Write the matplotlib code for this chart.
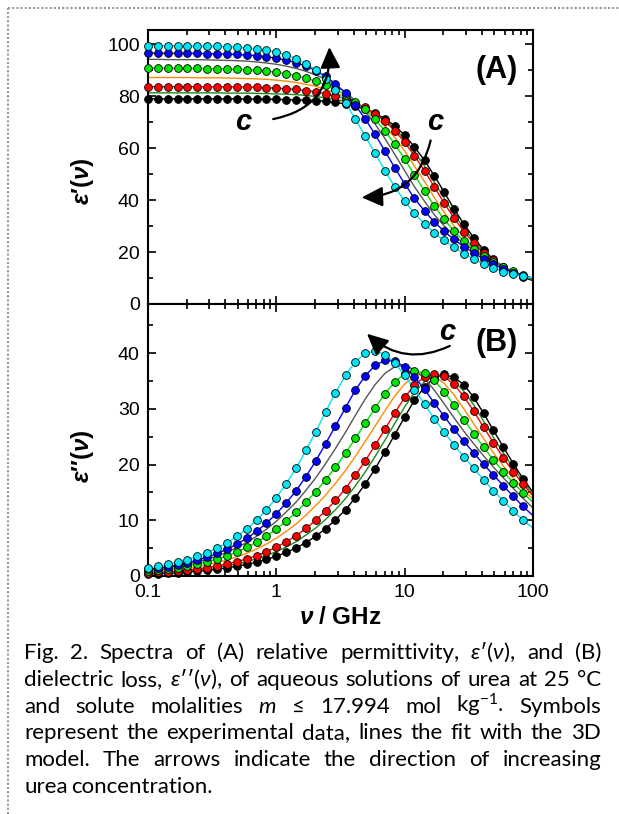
import matplotlib
matplotlib.use("Agg")
import matplotlib.pyplot as plt
from matplotlib.lines import Line2D
from matplotlib.patches import FancyArrowPatch

plt.rcParams['font.family'] = ['Liberation Sans', 'DejaVu Sans']
plt.rcParams['mathtext.fontset'] = 'custom'
plt.rcParams['mathtext.rm'] = 'Lato'
plt.rcParams['mathtext.it'] = 'Lato:italic'
plt.rcParams['mathtext.bf'] = 'Liberation Sans:bold'
plt.rcParams['mathtext.bfit'] = 'Liberation Sans:italic:bold'

# frequency / GHz (last point only carries the fit line)
freq = [0.1, 0.119, 0.143, 0.17, 0.203, 0.242, 0.289, 0.346, 0.412, 0.492,
        0.588, 0.702, 0.838, 1.0, 1.19, 1.43, 1.7, 2.03, 2.42, 2.89,
        3.46, 4.12, 4.92, 5.88, 7.02, 8.38, 10.0, 11.9, 14.3, 17.0,
        20.3, 24.2, 28.9, 34.6, 41.2, 49.2, 58.8, 70.2, 83.8, 100.0]

# relative permittivity eps'(nu), lowest to highest urea molality
eps1_black = [79.0, 79.0, 79.0, 79.0, 79.0, 79.0, 79.0, 79.0, 79.0, 79.0,
              78.9, 78.9, 78.9, 78.8, 78.7, 78.6, 78.5, 78.3, 78.0, 77.6,
              77.0, 76.1, 75.0, 73.5, 71.3, 68.6, 65.0, 60.5, 55.3, 49.4,
              43.1, 36.7, 30.8, 25.5, 20.9, 17.2, 14.3, 12.0, 10.3, 9.0]
eps1_dgreen = [81.3, 81.3, 81.3, 81.3, 81.3, 81.3, 81.3, 81.3, 81.2, 81.2,
               81.2, 81.1, 81.0, 80.9, 80.8, 80.6, 80.3, 79.9, 79.4, 78.8,
               77.9, 76.7, 75.2, 73.2, 70.7, 67.5, 63.5, 58.6, 53.1, 47.0,
               40.8, 34.7, 29.2, 24.3, 20.3, 17.0, 14.4, 12.3, 10.7, 9.4]
eps1_red = [83.7, 83.7, 83.7, 83.7, 83.7, 83.7, 83.6, 83.6, 83.6, 83.6,
            83.5, 83.4, 83.3, 83.1, 82.9, 82.6, 82.2, 81.7, 81.0, 80.1,
            79.0, 77.5, 75.7, 73.3, 70.4, 66.7, 62.3, 57.1, 51.3, 45.1,
            38.9, 33.1, 27.9, 23.4, 19.7, 16.8, 14.4, 12.5, 10.9, 9.6]
eps1_orange = [87.2, 87.2, 87.2, 87.2, 87.2, 87.1, 87.1, 87.1, 87.0, 86.9,
               86.8, 86.7, 86.5, 86.2, 85.8, 85.3, 84.6, 83.8, 82.7, 81.3,
               79.7, 77.7, 75.2, 72.3, 68.5, 64.1, 58.9, 53.2, 47.1, 41.0,
               35.3, 30.1, 25.6, 21.9, 18.9, 16.4, 14.3, 12.5, 11.0, 9.7]
eps1_green = [90.8, 90.8, 90.8, 90.7, 90.7, 90.7, 90.6, 90.6, 90.5, 90.4,
              90.2, 90.0, 89.7, 89.2, 88.7, 87.9, 87.0, 85.8, 84.3, 82.6,
              80.5, 77.9, 74.9, 71.1, 66.7, 61.5, 55.8, 49.7, 43.5, 37.8,
              32.6, 28.1, 24.3, 21.2, 18.5, 16.3, 14.3, 12.6, 11.1, 9.8]
eps1_gray = [94.2, 94.2, 94.1, 94.1, 94.1, 94.1, 94.0, 93.9, 93.8, 93.7,
             93.5, 93.2, 92.8, 92.3, 91.6, 90.7, 89.6, 88.2, 86.5, 84.3,
             81.6, 78.3, 74.2, 69.3, 63.7, 57.6, 51.3, 45.2, 39.5, 34.4,
             30.1, 26.4, 23.3, 20.6, 18.2, 16.1, 14.2, 12.5, 11.1, 9.9]
eps1_blue = [96.6, 96.6, 96.5, 96.5, 96.5, 96.5, 96.4, 96.3, 96.2, 96.1,
             95.9, 95.6, 95.2, 94.6, 93.9, 92.9, 91.6, 89.9, 87.7, 84.8,
             81.1, 76.6, 71.3, 65.3, 58.9, 52.4, 46.3, 40.7, 35.8, 31.6,
             28.0, 24.9, 22.1, 19.6, 17.4, 15.3, 13.6, 12.1, 10.9, 9.9]
eps1_cyan = [99.5, 99.5, 99.4, 99.4, 99.4, 99.3, 99.3, 99.2, 99.1, 98.9,
             98.6, 98.2, 97.7, 97.0, 95.9, 94.5, 92.6, 90.0, 86.7, 82.4,
             77.3, 71.3, 64.7, 58.0, 51.3, 45.1, 39.6, 34.9, 30.8, 27.4,
             24.5, 21.8, 19.4, 17.3, 15.4, 13.8, 12.5, 11.5, 10.6, 10.0]

# dielectric loss eps''(nu)
eps2_black = [0.35, 0.42, 0.50, 0.60, 0.72, 0.85, 1.02, 1.23, 1.46, 1.74,
              2.08, 2.49, 2.97, 3.55, 4.22, 5.05, 5.99, 7.13, 8.49, 10.08,
              11.88, 14.04, 16.49, 19.23, 22.26, 25.37, 28.54, 31.51, 33.93, 35.54,
              36.17, 35.65, 34.32, 32.04, 29.19, 26.13, 23.12, 20.15, 17.45, 14.99]
eps2_dgreen = [0.44, 0.54, 0.64, 0.76, 0.90, 1.07, 1.28, 1.53, 1.82, 2.17,
               2.59, 3.09, 3.68, 4.38, 5.19, 6.16, 7.34, 8.63, 10.15, 11.89,
               13.89, 16.14, 18.65, 21.42, 24.37, 27.40, 30.35, 32.93, 34.89, 35.97,
               36.01, 35.02, 33.15, 30.66, 27.81, 24.87, 22.04, 19.37, 16.95, 14.78]
eps2_red = [0.53, 0.63, 0.75, 0.90, 1.07, 1.27, 1.52, 1.82, 2.17, 2.58,
            3.08, 3.67, 4.36, 5.17, 6.14, 7.25, 8.53, 10.03, 11.71, 13.55,
            15.69, 18.05, 20.64, 23.46, 26.34, 29.28, 32.04, 34.26, 35.76, 36.31,
            35.81, 34.37, 32.22, 29.54, 26.68, 23.90, 21.18, 18.70, 16.44, 14.38]
eps2_orange = [0.70, 0.84, 1.00, 1.19, 1.42, 1.70, 2.03, 2.42, 2.88, 3.43,
               4.08, 4.85, 5.74, 6.79, 7.97, 9.35, 10.92, 12.65, 14.51, 16.64,
               18.94, 21.44, 24.14, 26.88, 29.68, 32.31, 34.44, 35.86, 36.40, 35.92,
               34.56, 32.51, 29.98, 27.27, 24.64, 22.08, 19.73, 17.57, 15.57, 13.77]
eps2_green = [0.89, 1.06, 1.26, 1.51, 1.80, 2.15, 2.56, 3.05, 3.63, 4.32,
              5.13, 6.06, 7.17, 8.41, 9.84, 11.46, 13.23, 15.12, 17.25, 19.55,
              22.02, 24.68, 27.39, 30.14, 32.74, 34.84, 36.26, 36.81, 36.37, 35.08,
              33.10, 30.66, 28.05, 25.54, 23.08, 20.82, 18.71, 16.73, 14.93, 13.18]
eps2_gray = [1.05, 1.25, 1.50, 1.79, 2.13, 2.54, 3.02, 3.59, 4.28, 5.09,
             6.02, 7.11, 8.40, 9.82, 11.46, 13.30, 15.36, 17.63, 20.15, 22.89,
             25.80, 28.79, 31.73, 34.33, 36.35, 37.55, 37.77, 37.03, 35.47, 33.35,
             30.91, 28.41, 25.98, 23.70, 21.55, 19.54, 17.60, 15.72, 13.91, 12.20]
eps2_blue = [1.17, 1.40, 1.67, 1.99, 2.38, 2.84, 3.38, 4.04, 4.80, 5.71,
             6.76, 8.01, 9.49, 11.18, 13.07, 15.32, 17.84, 20.65, 23.74, 26.93,
             30.20, 33.31, 35.91, 37.77, 38.70, 38.57, 37.52, 35.75, 33.48, 31.03,
             28.66, 26.33, 24.15, 22.06, 20.04, 18.12, 16.19, 14.28, 12.48, 10.81]
eps2_cyan = [1.45, 1.73, 2.07, 2.47, 2.95, 3.51, 4.20, 5.00, 5.95, 7.12,
             8.44, 10.02, 11.88, 14.05, 16.54, 19.37, 22.53, 25.92, 29.44, 32.89,
             35.98, 38.42, 39.94, 40.38, 39.73, 38.18, 35.99, 33.44, 30.81, 28.25,
             25.82, 23.55, 21.39, 19.30, 17.27, 15.30, 13.44, 11.64, 10.03, 8.58]

# (eps', eps'', colour, has symbols)
series = [
    (eps1_black, eps2_black, '#000000', True),
    (eps1_dgreen, eps2_dgreen, '#1a8c1a', False),
    (eps1_red, eps2_red, '#ff0000', True),
    (eps1_orange, eps2_orange, '#ff8c00', False),
    (eps1_green, eps2_green, '#00e600', True),
    (eps1_gray, eps2_gray, '#555555', False),
    (eps1_blue, eps2_blue, '#0000ff', True),
    (eps1_cyan, eps2_cyan, '#00e5f5', True),
]

fig = plt.figure(figsize=(6.19, 8.14), dpi=100)
W, H = 619.0, 814.0

def px_axes(l, t, r, b):
    return fig.add_axes([l / W, 1 - b / H, (r - l) / W, (b - t) / H])

axA = px_axes(148, 30, 533, 304)
axB = px_axes(148, 304, 533, 576)

for ax in (axA, axB):
    ax.set_xscale('log')
    ax.set_xlim(0.1, 100)
    ax.tick_params(which='both', direction='in', top=True, right=True, width=1.2)
    ax.tick_params(which='major', length=6, labelsize=14, pad=6)
    ax.tick_params(which='minor', length=3.5)
    for s in ax.spines.values():
        s.set_linewidth(1.5)

axA.set_ylim(0, 105.5)
axA.set_yticks([0, 20, 40, 60, 80, 100])
axA.set_yticks(range(10, 110, 20), minor=True)
axA.tick_params(labelbottom=False)
axB.set_ylim(0, 48.8)
axB.set_yticks([0, 10, 20, 30, 40])
axB.set_yticks([5, 15, 25, 35, 45], minor=True)
axB.set_xticks([0.1, 1, 10, 100])
axB.set_xticklabels(['0.1', '1', '10', '100'])

for e1, e2, col, sym in series:
    for ax, y in ((axA, e1), (axB, e2)):
        ax.plot(freq, y, color=col, lw=1.0, zorder=2)
        if sym:
            ax.plot(freq[:-1], y[:-1], ls='none', marker='o', ms=5.6, mfc=col,
                    mec='black', mew=0.6, zorder=3, clip_on=False)

axA.set_ylabel(r"$\mathbfit{ε}\mathbf{′(}\mathbfit{ν}\mathbf{)}$", fontsize=17.5)
axB.set_ylabel(r"$\mathbfit{ε}\mathbf{′′(}\mathbfit{ν}\mathbf{)}$", fontsize=17.5)
axA.yaxis.set_label_coords(-0.135, 0.45)
axB.yaxis.set_label_coords(-0.135, 0.44)
axB.set_xlabel(r"$\mathbfit{ν}\mathbf{\ /\ GHz}$", fontsize=17.5, labelpad=4)

axA.text(0.96, 0.855, '(A)', transform=axA.transAxes, ha='right', va='center',
         fontsize=22, fontweight='bold')
axB.text(0.96, 0.855, '(B)', transform=axB.transAxes, ha='right', va='center',
         fontsize=22, fontweight='bold')

def arrow(ax, start, end, rad):
    a = FancyArrowPatch(start, end, connectionstyle=f"arc3,rad={rad}",
                        arrowstyle="-|>,head_length=8,head_width=3.8",
                        color='black', lw=1.6, mutation_scale=1.6, zorder=5)
    ax.add_patch(a)

arrow(axA, (0.9, 71), (2.58, 100), 0.45)
arrow(axA, (16.1, 64), (4.4, 41), -0.4)
arrow(axB, (23.5, 41.5), (4.9, 43.8), -0.35)
for ax, x, y in ((axA, 0.55, 70), (axA, 17.3, 70), (axB, 21.4, 43.8)):
    ax.text(x, y, 'c', fontsize=21, fontweight='bold', fontstyle='italic',
            ha='center', va='center', zorder=5)

# dotted page border
fig.add_artist(Line2D([8 / W, 8 / W], [0, 1 - 8 / H], transform=fig.transFigure,
                      color='#999999', lw=1.5, ls=(0, (1, 1))))
fig.add_artist(Line2D([8 / W, 1], [1 - 8 / H, 1 - 8 / H], transform=fig.transFigure,
                      color='#999999', lw=1.5, ls=(0, (1, 1))))

# justified caption
cap_lines = [
    ["Fig.", "2.", "Spectra", "of", "(A)", "relative", "permittivity,",
     r"$\mathit{ε}$′($\mathit{ν}$),", "and", "(B)"],
    ["dielectric", "loss,", r"$\mathit{ε}$′′($\mathit{ν}$),", "of", "aqueous", "solutions",
     "of", "urea", "at", "25", "°C"],
    ["and", "solute", "molalities", r"$\mathit{m}$", "≤", "17.994", "mol",
     r"kg$^{−1}$.", "Symbols"],
    ["represent", "the", "experimental", "data,", "lines", "the", "fit", "with",
     "the", "3D"],
    ["model.", "The", "arrows", "indicate", "the", "direction", "of", "increasing"],
    ["urea", "concentration."],
]
x0, x1 = 24.0, 601.0
base0, step = 659.0, 26.8
fig.canvas.draw()
renderer = fig.canvas.get_renderer()
fs = 16
for i, words in enumerate(cap_lines):
    yb = 1 - (base0 + i * step) / H
    texts = [fig.text(0, yb, w, fontsize=fs, family=['Lato', 'DejaVu Sans'],
                      va='baseline', ha='left') for w in words]
    widths = [t.get_window_extent(renderer).width for t in texts]
    if i < len(cap_lines) - 1:
        gap = (x1 - x0 - sum(widths)) / (len(words) - 1)
    else:
        gap = fs * 0.25
    x = x0
    for t, w in zip(texts, widths):
        t.set_x(x / W)
        x += w + gap

fig.savefig('out.png', dpi=100)
